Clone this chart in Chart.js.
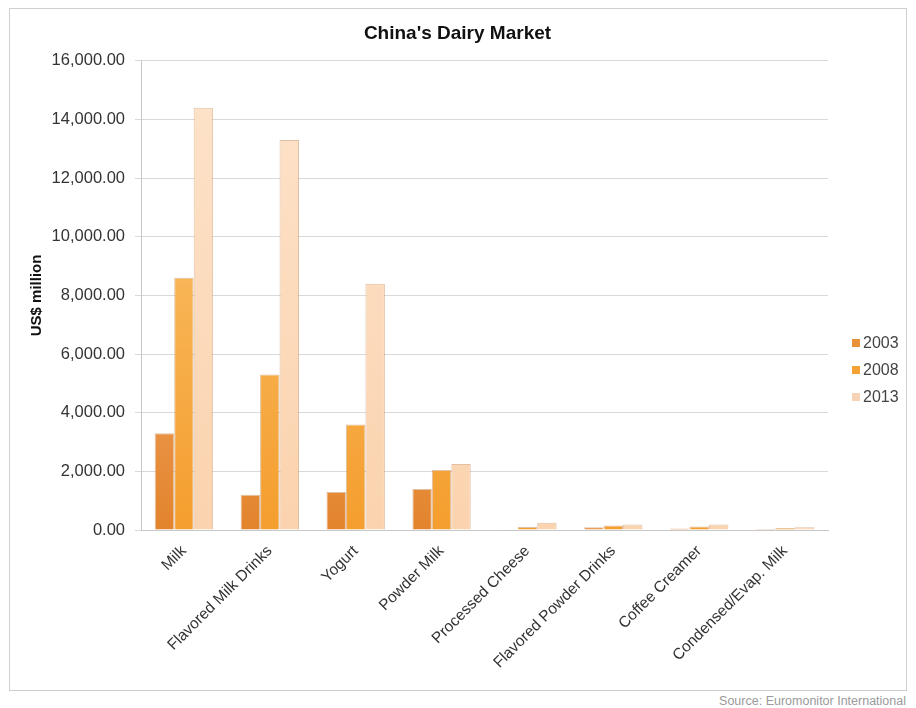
<!DOCTYPE html>
<html lang="en">
<head>
    <meta charset="UTF-8">
    <title>China's Dairy Market</title>
    <script src="https://cdn.jsdelivr.net/npm/chart.js"></script>
    <style>
        body { margin: 0; background: #fff; font-family: "Liberation Sans", Arial, sans-serif; }
        #page { position: relative; width: 916px; height: 708px; }
        #frame { position: absolute; left: 9px; top: 8px; width: 896px; height: 681px; border: 1px solid #cfcfcf; }
        #chartWrap { position: absolute; left: 9px; top: 8px; width: 897px; height: 682px; }
        #source { position: absolute; right: 10px; top: 694px; font-size: 12.5px; color: #9a9a9a; }
    </style>
</head>
<body>
<div id="page">
    <div id="frame"></div>
    <div id="chartWrap"><canvas id="chart"></canvas></div>
    <div id="source">Source: Euromonitor International</div>
</div>
<script>
    // categories and values (US$ million)
    const categories = ['Milk', 'Flavored Milk Drinks', 'Yogurt', 'Powder Milk', 'Processed Cheese',
        'Flavored Powder Drinks', 'Coffee Creamer', 'Condensed/Evap. Milk'];
    const years = ['2003', '2008', '2013'];
    const values2003 = [3300, 1200, 1300, 1400, 10, 90, 50, 30];
    const values2008 = [8600, 5300, 3600, 2050, 100, 150, 120, 70];
    const values2013 = [14400, 13300, 8400, 2250, 250, 190, 190, 90];
    const yTicks = { min: 0, max: 16000, step: 2000 };

    // bottom -> top colours for each series
    const shades = [
        ['#e3842c', '#fcc79a'],
        ['#f49e2e', '#fcc878'],
        ['#fbd3ae', '#fde3cb']
    ];
    const legendColors = ['#e8903a', '#f5a233', '#f8d2b4'];

    function barFill(i) {
        return ctx => {
            const area = ctx.chart.chartArea;
            if (!area) return shades[i][0];
            const g = ctx.chart.ctx.createLinearGradient(0, area.bottom, 0, area.top);
            g.addColorStop(0, shades[i][0]);
            g.addColorStop(1, shades[i][1]);
            return g;
        };
    }

    const fontFamily = '"Liberation Sans", Arial, sans-serif';

    // legend drawn on the right at the spot it sits in the picture
    const sideLegend = {
        id: 'sideLegend',
        afterDraw(chart) {
            const c = chart.ctx;
            c.save();
            c.font = '16px ' + fontFamily;
            c.textBaseline = 'middle';
            chart.data.datasets.forEach((ds, i) => {
                const y = 335 + i * 27;
                c.fillStyle = legendColors[i];
                c.fillRect(843, y - 4, 8, 8);
                c.fillStyle = '#444';
                c.fillText(ds.label, 854, y + 1);
            });
            c.restore();
        }
    };

    new Chart(document.getElementById('chart'), {
        type: 'bar',
        data: {
            labels: categories,
            datasets: [values2003, values2008, values2013].map((v, i) => ({
                label: years[i],
                data: v,
                backgroundColor: barFill(i),
                borderColor: 'rgba(200,140,90,0.55)',
                borderWidth: 1,
                barPercentage: 1.0,
                categoryPercentage: 0.68
            }))
        },
        options: {
            responsive: true,
            maintainAspectRatio: false,
            animation: false,
            layout: { padding: { left: 0, right: 0 } },
            plugins: {
                legend: { display: false },
                tooltip: { enabled: false },
                title: {
                    display: true,
                    text: "China's Dairy Market",
                    color: '#111',
                    font: { family: fontFamily, size: 19, weight: 'bold' },
                    padding: { top: 14, bottom: 16 }
                }
            },
            scales: {
                x: {
                    grid: { display: false },
                    border: { color: '#c8c8c8' },
                    ticks: {
                        color: '#333',
                        font: { family: fontFamily, size: 15.5 },
                        minRotation: 45,
                        maxRotation: 45,
                        autoSkip: false,
                        padding: 4
                    },
                    afterFit: s => { s.height = 160; }
                },
                y: {
                    min: yTicks.min,
                    max: yTicks.max,
                    border: { color: '#c8c8c8' },
                    grid: { color: '#d9d9d9', tickLength: 6 },
                    ticks: {
                        stepSize: yTicks.step,
                        color: '#333',
                        padding: 10,
                        font: { family: fontFamily, size: 16.5 },
                        callback: v => v.toLocaleString('en-US', { minimumFractionDigits: 2, maximumFractionDigits: 2 })
                    },
                    title: {
                        display: true,
                        text: 'US$ million',
                        color: '#111',
                        font: { family: fontFamily, size: 15, weight: 'bold' },
                        padding: { top: 19, bottom: 0 }
                    },
                    afterFit: s => { s.width = 132; }
                },
                // empty right-hand box that holds room for the legend
                side: {
                    position: 'right',
                    display: true,
                    grid: { display: false },
                    border: { display: false },
                    ticks: { display: false },
                    afterFit: s => { s.width = 78; }
                }
            }
        },
        plugins: [sideLegend]
    });
</script>
</body>
</html>
